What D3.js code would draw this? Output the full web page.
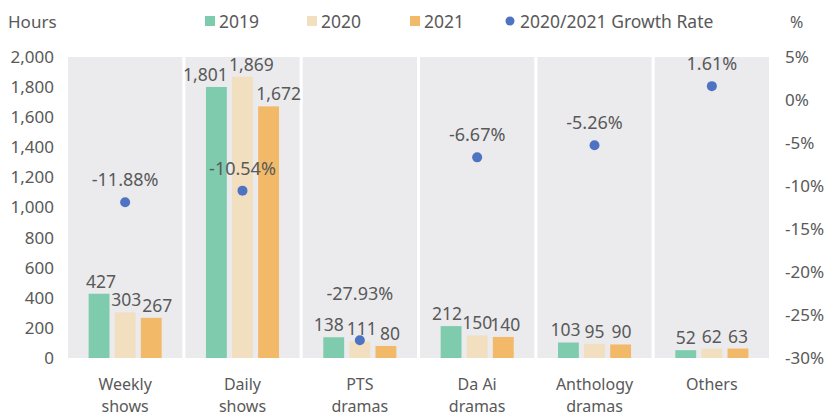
<!DOCTYPE html>
<html>
<head>
<meta charset="utf-8">
<script src="https://cdn.jsdelivr.net/npm/d3@7"></script>
<style>
  body { margin: 0; background: #fff; }
  text { font-family: "Noto Sans", sans-serif; fill: #595959; }
</style>
</head>
<body>
<div id="chart"></div>
<script>
// data
var categories = ['Weekly shows', 'Daily shows', 'PTS dramas', 'Da Ai dramas', 'Anthology dramas', 'Others'];
var years = ['2019', '2020', '2021'];
var hours_2019 = [427, 1801, 138, 212, 103, 52];
var hours_2020 = [303, 1869, 111, 150, 95, 62];
var hours_2021 = [267, 1672, 80, 140, 90, 63];
var growth = [-11.88, -10.54, -27.93, -6.67, -5.26, 1.61];
var left_ticks = [0, 200, 400, 600, 800, 1000, 1200, 1400, 1600, 1800, 2000];
var right_ticks = [5, 0, -5, -10, -15, -20, -25, -30];

var colors = { '2019': '#7fcbae', '2020': '#f2dfc0', '2021': '#f2b968' };
var dot_color = '#4e73c2';

var chart_width = 827;
var chart_height = 417;
var plot = { left: 68, right: 769, top: 57, bottom: 358 };

// label nudges so the data labels don't collide (x shift per year)
var label_nudge = {
  'Weekly shows': [2, 1, 6],
  'Daily shows': [-11, 9, 10],
  'PTS dramas': [-5, 2, 4],
  'Da Ai dramas': [-4, 0, 2],
  'Anthology dramas': [-3, 0, 1]
};
var growth_label_gap = { 'PTS dramas': 46 };

var rows = categories.map(function(c, i) {
  return { cat: c, vals: [hours_2019[i], hours_2020[i], hours_2021[i]], g: growth[i] };
});

var svg = d3.select('#chart')
  .append('svg')
  .attr('width', chart_width)
  .attr('height', chart_height);

// scales
var x_scale = d3.scaleBand()
  .domain(categories)
  .range([plot.left, plot.right])
  .paddingInner(0.026);

var x_inner = d3.scaleBand()
  .domain(years)
  .range([0, x_scale.bandwidth()])
  .paddingInner(0.2)
  .paddingOuter(0.79);

var y_scale = d3.scaleLinear()
  .domain([0, 2000])
  .range([plot.bottom, plot.top]);

var y_right = d3.scaleLinear()
  .domain([-30, 5])
  .range([plot.bottom, plot.top]);

// panels
svg.selectAll('rect.panel')
  .data(categories)
  .enter()
  .append('rect')
  .attr('class', 'panel')
  .attr('x', function(d) { return x_scale(d); })
  .attr('y', plot.top)
  .attr('width', x_scale.bandwidth())
  .attr('height', plot.bottom - plot.top)
  .attr('fill', '#ebebee');

// left axis
var left_axis = d3.axisLeft(y_scale)
  .tickValues(left_ticks)
  .tickSize(0)
  .tickPadding(14)
  .tickFormat(d3.format(','));
svg.append('g')
  .attr('transform', 'translate(' + plot.left + ',0)')
  .call(left_axis)
  .call(function(g) { g.select('.domain').remove(); })
  .selectAll('text')
  .attr('font-size', '17px')
  .style('font-family', '"Noto Sans", sans-serif')
  .attr('fill', '#595959');

// right axis
var right_axis = d3.axisRight(y_right)
  .tickValues(right_ticks)
  .tickSize(0)
  .tickPadding(16)
  .tickFormat(function(d) { return d + '%'; });
svg.append('g')
  .attr('transform', 'translate(' + plot.right + ',0)')
  .call(right_axis)
  .call(function(g) { g.select('.domain').remove(); })
  .selectAll('text')
  .attr('font-size', '17px')
  .style('font-family', '"Noto Sans", sans-serif')
  .attr('fill', '#595959');

// bars
var groups = svg.selectAll('g.cat')
  .data(rows)
  .enter()
  .append('g')
  .attr('class', 'cat')
  .attr('transform', function(d) { return 'translate(' + x_scale(d.cat) + ',0)'; });

function bar_data(d) {
  return years.map(function(y, j) { return { cat: d.cat, year: y, j: j, num: d.vals[j] }; });
}

groups.selectAll('rect')
  .data(bar_data)
  .enter()
  .append('rect')
  .attr('x', function(d) { return x_inner(d.year); })
  .attr('y', function(d) { return y_scale(d.num); })
  .attr('width', x_inner.bandwidth())
  .attr('height', function(d) { return plot.bottom - y_scale(d.num); })
  .attr('fill', function(d) { return colors[d.year]; });

groups.selectAll('text.val')
  .data(bar_data)
  .enter()
  .append('text')
  .attr('class', 'val')
  .text(function(d) { return d3.format(',')(d.num); })
  .attr('x', function(d) {
    var n = label_nudge[d.cat] ? label_nudge[d.cat][d.j] : 0;
    return x_inner(d.year) + x_inner.bandwidth() / 2 + n;
  })
  .attr('y', function(d) { return y_scale(d.num) - 6; })
  .attr('font-size', '17.5px')
  .attr('text-anchor', 'middle');

// growth rate dots
svg.selectAll('circle.growth')
  .data(rows)
  .enter()
  .append('circle')
  .attr('class', 'growth')
  .attr('cx', function(d) { return x_scale(d.cat) + x_scale.bandwidth() / 2; })
  .attr('cy', function(d) { return y_right(d.g); })
  .attr('r', 5)
  .attr('fill', dot_color);

svg.selectAll('text.growth')
  .data(rows)
  .enter()
  .append('text')
  .attr('class', 'growth')
  .text(function(d) { return d.g.toFixed(2) + '%'; })
  .attr('x', function(d) { return x_scale(d.cat) + x_scale.bandwidth() / 2; })
  .attr('y', function(d) { return y_right(d.g) - (growth_label_gap[d.cat] || 22) + 6; })
  .attr('font-size', '18px')
  .attr('text-anchor', 'middle');

// category labels
svg.selectAll('text.cat')
  .data(categories)
  .enter()
  .append('text')
  .attr('class', 'cat')
  .attr('x', function(d) { return x_scale(d) + x_scale.bandwidth() / 2; })
  .attr('y', 390)
  .attr('font-size', '16px')
  .attr('text-anchor', 'middle')
  .each(function(d) {
    var words = d.split(' ');
    var first = words.length > 1 ? words.slice(0, words.length - 1).join(' ') : d;
    var last = words.length > 1 ? words[words.length - 1] : null;
    var cx = x_scale(d) + x_scale.bandwidth() / 2;
    var t = d3.select(this);
    t.append('tspan').attr('x', cx).text(first);
    if (last) {
      t.append('tspan').attr('x', cx).attr('dy', 22).text(last);
    }
  });

// axis titles
svg.append('text').attr('x', 8).attr('y', 28).attr('font-size', '17px').text('Hours');
svg.append('text').attr('x', 790).attr('y', 28).attr('font-size', '16px').text('%');

// legend
var legend = [
  { label: '2019', type: 'rect', color: colors['2019'], x: 205 },
  { label: '2020', type: 'rect', color: colors['2020'], x: 307 },
  { label: '2021', type: 'rect', color: colors['2021'], x: 410 },
  { label: '2020/2021 Growth Rate', type: 'dot', color: dot_color, x: 505 }
];
var lg = svg.selectAll('g.legend')
  .data(legend)
  .enter()
  .append('g')
  .attr('class', 'legend')
  .attr('transform', function(d) { return 'translate(' + d.x + ',21)'; });
lg.filter(function(d) { return d.type === 'rect'; })
  .append('rect')
  .attr('x', 0).attr('y', -5).attr('width', 10).attr('height', 10)
  .attr('fill', function(d) { return d.color; });
lg.filter(function(d) { return d.type === 'dot'; })
  .append('circle')
  .attr('cx', 5).attr('cy', 0).attr('r', 4.5)
  .attr('fill', function(d) { return d.color; });
lg.append('text')
  .attr('x', function(d) { return d.type === 'rect' ? 14 : 15; })
  .attr('y', 7)
  .attr('font-size', '17.5px')
  .text(function(d) { return d.label; });
</script>
</body>
</html>
